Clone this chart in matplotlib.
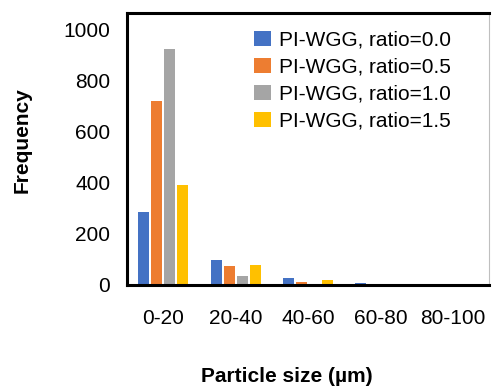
import numpy as np
import matplotlib.pyplot as plt

plt.rcParams['font.family'] = ['Liberation Sans', 'DejaVu Sans']

categories = ['0-20', '20-40', '40-60', '60-80', '80-100']
series_names = ['PI-WGG, ratio=0.0', 'PI-WGG, ratio=0.5',
                'PI-WGG, ratio=1.0', 'PI-WGG, ratio=1.5']
ratio_00 = [287, 97, 26, 8, 3]
ratio_05 = [722, 73, 12, 0, 0]
ratio_10 = [925, 34, 3, 0, 0]
ratio_15 = [390, 77, 20, 3, 0]
yticks = [0, 200, 400, 600, 800, 1000]

colors = ['#4472C4', '#ED7D31', '#A5A5A5', '#FFC000']
all_series = [ratio_00, ratio_05, ratio_10, ratio_15]

fig = plt.figure(figsize=(4.92, 3.86), dpi=100)
ax = fig.add_axes([127 / 492, 1 - 285 / 386, 362 / 492, 272 / 386])

x = np.arange(len(categories))
step = 0.18
width = 0.152
for i, (vals, c, name) in enumerate(zip(all_series, colors, series_names)):
    ax.bar(x + (i - 1.5) * step, vals, width=width, color=c, label=name, zorder=1)

ax.set_xlim(-0.5, len(categories) - 0.5)
ax.set_ylim(0, 1065)
ax.set_yticks(yticks)
ax.set_xticks(x)
ax.set_xticklabels(categories)
ax.tick_params(axis='both', length=0, labelsize=15)
ax.tick_params(axis='x', pad=17)
ax.tick_params(axis='y', pad=12)

for side in ['left', 'bottom', 'top']:
    ax.spines[side].set_linewidth(2.2)
    ax.spines[side].set_color('black')
ax.spines['right'].set_linewidth(0.8)
ax.spines['right'].set_color('#BFBFBF')

fig.text(22 / 492, 1 - 140 / 386, 'Frequency', rotation=90, fontsize=15,
         fontweight='bold', ha='center', va='center')
fig.text(287 / 492, 1 - 376 / 386, 'Particle size (µm)', fontsize=15,
         fontweight='bold', ha='center', va='center')

ax.legend(loc='upper left', bbox_to_anchor=(254 / 492, 1 - 31 / 386),
          bbox_transform=fig.transFigure, frameon=False, fontsize=15,
          handlelength=0.8, handleheight=0.75, handletextpad=0.4,
          labelspacing=0.38, borderpad=0, borderaxespad=0)

fig.savefig('out.png', dpi=100)
